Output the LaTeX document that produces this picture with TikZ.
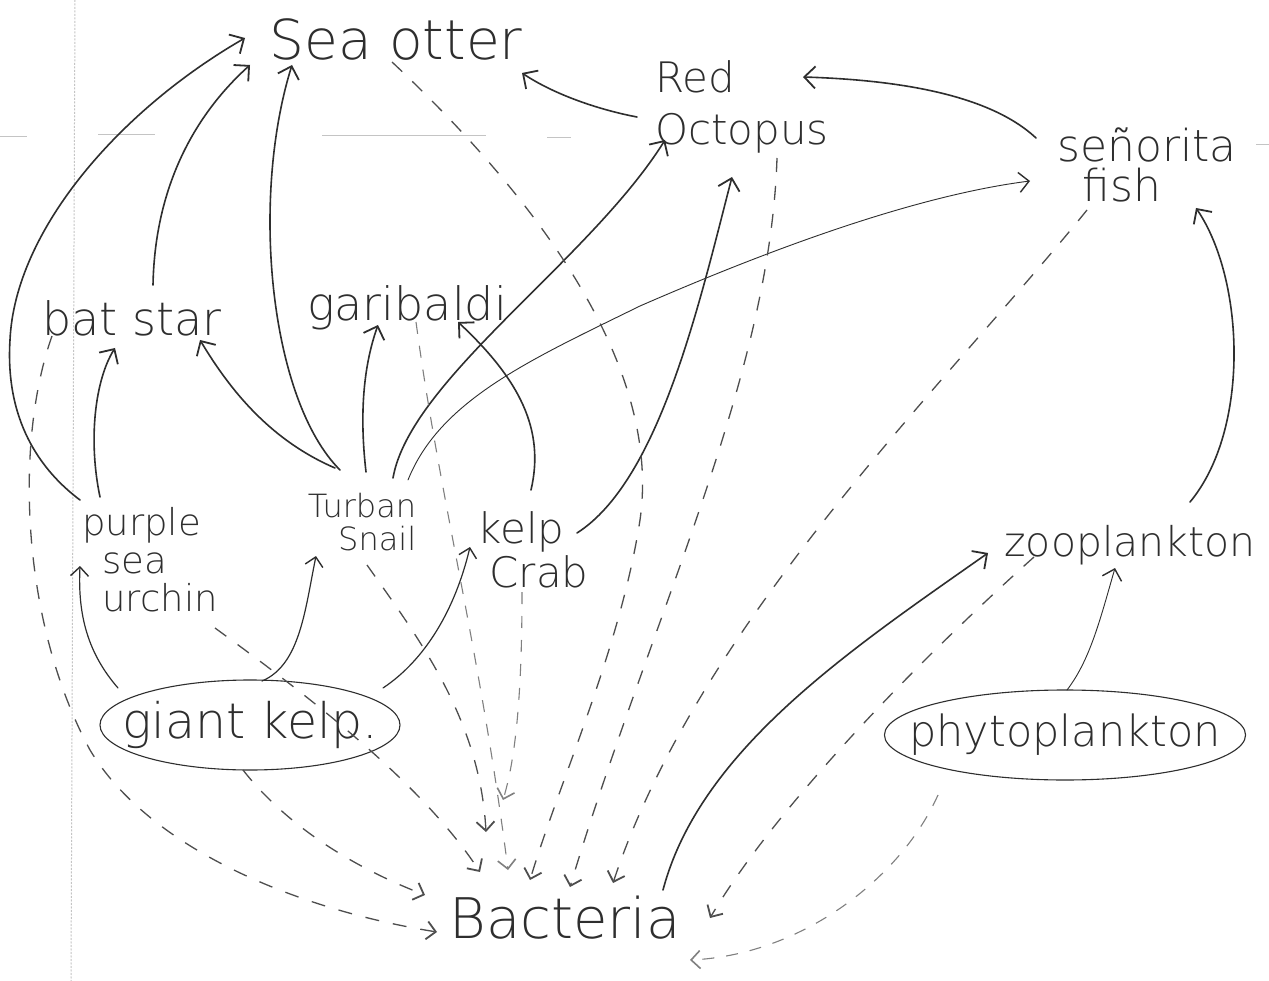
\documentclass[tikz,border=0pt]{standalone}
\usepackage{fontspec}
\setmainfont{DejaVu Sans ExtraLight}
\usetikzlibrary{arrows.meta,shapes.geometric}
\definecolor{pencil}{HTML}{2E2E2E}
\definecolor{pencilg}{HTML}{4E4E4E}
\definecolor{pencill}{HTML}{808080}
\definecolor{paper}{HTML}{C4C4C4}
\tikzset{
  lbl/.style={text=pencil, inner sep=0pt, align=center},
  eat/.style={draw=pencil, line width=1.6pt, line cap=round,
    -{Straight Barb[length=11pt,width=22pt,line width=1.8pt]}},
  eatm/.style={draw=pencil, line width=1.2pt, line cap=round,
    -{Straight Barb[length=9pt,width=18pt,line width=1.4pt]}},
  eatthin/.style={draw=pencil, line width=0.9pt, line cap=round,
    -{Straight Barb[length=10pt,width=20pt,line width=1.4pt]}},
  decay/.style={draw=pencilg, line width=1.3pt, dash pattern=on 14pt off 14pt,
    -{Straight Barb[length=9pt,width=18pt,line width=1.8pt]}},
  decayl/.style={draw=pencill, line width=1.1pt, dash pattern=on 12pt off 12pt,
    -{Straight Barb[length=9pt,width=18pt,line width=1.6pt]}},
  blob/.style={ellipse, draw=pencil, line width=1.1pt, inner ysep=0pt, text=pencil},
  margin/.style={draw=paper, line width=1pt},
}
\begin{document}
\begin{tikzpicture}[x=1pt,y=-1pt]
\useasboundingbox (0,0) rectangle (1269,981);
\fill[white] (0,0) rectangle (1269,981);
% paper marks
\draw[margin, dash pattern=on 2pt off 1.5pt] (75,0) -- (71,981);
\draw[margin] (0,137) -- (27,137);
\draw[margin] (98,135) -- (155,135);
\draw[margin] (322,136) -- (486,136);
\draw[margin] (547,138) -- (571,138);
\draw[margin] (1256,145) -- (1269,145);

% organisms
\node[lbl, font=\fontsize{55}{60}\selectfont] (otter) at (396,40) {Sea otter};
\node[lbl, align=left, font=\fontsize{42}{52}\selectfont] (octo) at (742,107) {Red\\Octopus};
\node[lbl, font=\fontsize{44}{40}\selectfont] (sen) at (1147,165) {señorita\\fish\hspace*{50pt}};
\node[lbl, font=\fontsize{46}{50}\selectfont] (bat) at (132,318) {bat star};
\node[lbl, font=\fontsize{46}{50}\selectfont] (gar) at (407,308) {garibaldi};
\node[lbl, align=left, font=\fontsize{37}{38}\selectfont] (urch) at (150,560) {purple\\\hspace*{20pt}sea\\\hspace*{20pt}urchin};
\node[lbl, align=right, font=\fontsize{32}{33}\selectfont] (snail) at (362,522) {Turban\\Snail};
\node[lbl, align=left, font=\fontsize{42}{44}\selectfont] (crab) at (533,550) {kelp\\\hspace*{12pt}Crab};
\node[lbl, font=\fontsize{41}{48}\selectfont] (zoo) at (1130,545) {zooplankton};
\node[blob, inner xsep=-25pt, minimum width=300pt, minimum height=90pt, font=\fontsize{49}{56}\selectfont] (kelp) at (250,725) {giant kelp.};
\node[blob, inner xsep=-28pt, minimum width=360pt, minimum height=90pt, font=\fontsize{43}{50}\selectfont] (phyto) at (1065,735) {phytoplankton};
\node[lbl, font=\fontsize{56}{60}\selectfont] (bact) at (565,918) {Bacteria};

% feeding links (solid)
\draw[eat] ([shift={(-70,-60)}]urch.center) .. controls (40,470) and (5,420) .. (10,340)
  .. controls (15,230) and (120,110) .. ([shift={(-151,-2)}]otter.center);
\draw[eat] ([shift={(21,-33)}]bat.center) .. controls (155,180) and (200,110) .. ([shift={(-146,25)}]otter.center);
\draw[eat] ([shift={(-22,-52)}]snail.center) .. controls (270,400) and (250,200) .. ([shift={(-104,25)}]otter.center);
\draw[eat] ([shift={(-27,-54)}]snail.center) .. controls (270,440) and (230,390) .. ([shift={(68,22)}]bat.center);
\draw[eat] ([shift={(-50,-63)}]urch.center) .. controls (88,440) and (95,380) .. ([shift={(-17,30)}]bat.center);
\draw[eat] ([shift={(4,-50)}]snail.center) .. controls (360,420) and (362,370) .. ([shift={(-29,17)}]gar.center);
\draw[eat] ([shift={(-2,-60)}]crab.center) .. controls (545,430) and (520,380) .. ([shift={(51,14)}]gar.center);
\draw[eat] ([shift={(31,-44)}]snail.center) .. controls (410,380) and (590,260) .. ([shift={(-77,33)}]octo.center);
\draw[eat] ([shift={(44,-17)}]crab.center) .. controls (660,480) and (700,300) .. ([shift={(-10,70)}]octo.center);
\draw[eatthin] ([shift={(46,-42)}]snail.center) .. controls (440,400) and (530,360) .. (640,306)
  .. controls (780,245) and (920,195) .. ([shift={(-117,16)}]sen.center);
\draw[eat] ([shift={(-105,10)}]octo.center) .. controls (600,110) and (555,95) .. ([shift={(126,33)}]otter.center);
\draw[eat] ([shift={(-111,-27)}]sen.center) .. controls (990,95) and (900,80) .. ([shift={(61,-30)}]octo.center);
\draw[eat] ([shift={(60,-43)}]zoo.center) .. controls (1250,430) and (1245,280) .. ([shift={(49,43)}]sen.center);
\draw[eatm] ([shift={(-132,-37)}]kelp.center) .. controls (85,650) and (78,610) .. ([shift={(-70,6)}]urch.center);
\draw[eatm] ([shift={(12,-44)}]kelp.center) .. controls (300,665) and (305,610) .. ([shift={(-46,34)}]snail.center);
\draw[eatm] ([shift={(133,-37)}]kelp.center) .. controls (425,660) and (455,610) .. ([shift={(-63,-3)}]crab.center);
\draw[eatthin] ([shift={(2,-45)}]phyto.center) .. controls (1090,660) and (1100,620) .. ([shift={(-15,23)}]zoo.center);
\draw[eat] ([shift={(98,-28)}]bact.center) .. controls (700,750) and (850,650) .. ([shift={(-142,8)}]zoo.center);

% decomposition links (dashed)
\draw[decay] ([shift={(-80,18)}]bat.center) .. controls (15,440) and (20,620) .. (90,750)
  .. controls (150,850) and (300,910) .. ([shift={(-128,14)}]bact.center);
\draw[decay] ([shift={(65,68)}]urch.center) .. controls (300,690) and (420,780) .. ([shift={(-85,-46)}]bact.center);
\draw[decay] ([shift={(-7,45)}]kelp.center) .. controls (290,830) and (360,870) .. ([shift={(-140,-23)}]bact.center);
\draw[decay] ([shift={(5,43)}]snail.center) .. controls (420,640) and (480,720) .. ([shift={(-79,-86)}]bact.center);
\draw[decayl] ([shift={(9,14)}]gar.center) .. controls (440,500) and (480,650) .. ([shift={(-57,-48)}]bact.center);
\draw[decayl] ([shift={(-11,42)}]crab.center) .. controls (522,700) and (515,760) .. ([shift={(-62,-118)}]bact.center);
\draw[decay] ([shift={(-4,22)}]otter.center) .. controls (560,220) and (660,380) .. (640,520)
  .. controls (620,650) and (560,780) .. ([shift={(-35,-38)}]bact.center);
\draw[decay] ([shift={(35,51)}]octo.center) .. controls (770,380) and (650,620) .. ([shift={(5,-31)}]bact.center);
\draw[decay] ([shift={(-60,45)}]sen.center) .. controls (950,380) and (700,620) .. ([shift={(48,-35)}]bact.center);
\draw[decay] ([shift={(-96,12)}]zoo.center) .. controls (930,650) and (780,800) .. ([shift={(145,0)}]bact.center);
\draw[decayl] ([shift={(-127,60)}]phyto.center) .. controls (900,880) and (800,955) .. ([shift={(125,42)}]bact.center);
\end{tikzpicture}
\end{document}
